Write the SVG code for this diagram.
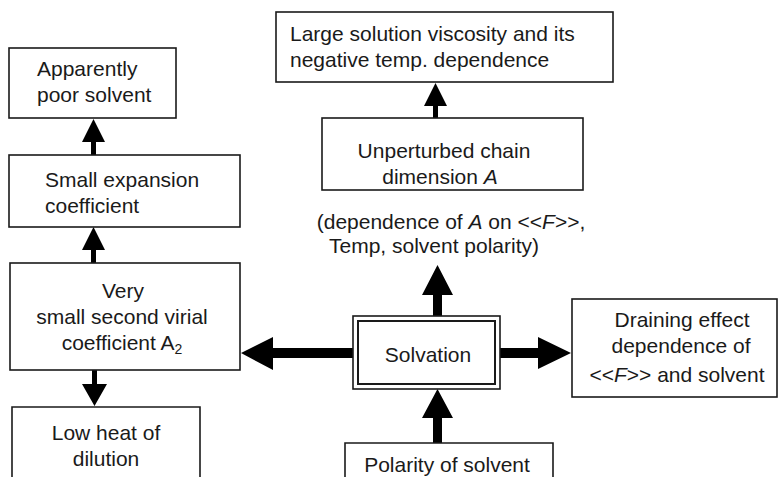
<svg xmlns="http://www.w3.org/2000/svg" width="779" height="477" viewBox="0 0 779 477">
  <style>
    .box { fill: #ffffff; stroke: #1a1a1a; stroke-width: 1.6; }
    .open { fill: none; stroke: #1a1a1a; stroke-width: 1.6; }
    .t { font-family: "Liberation Sans", Arial, sans-serif; font-size: 21px; fill: #1a1a1a; }
    .c { text-anchor: middle; }
    .arrow { fill: #000000; stroke: none; }
  </style>
  <rect width="779" height="477" fill="#ffffff"/>

  <!-- connectors -->
  <g id="connectors">
    <!-- Small expansion coefficient -> Apparently poor solvent -->
    <path class="arrow" d="M91,155 L91,142 L82,142 L93.5,119 L105,142 L96,142 L96,155 Z"/>
    <!-- Very small A2 -> Small expansion coefficient -->
    <path class="arrow" d="M91,263 L91,250 L82,250 L93.5,227 L105,250 L96,250 L96,263 Z"/>
    <!-- Very small A2 -> Low heat of dilution -->
    <path class="arrow" d="M92,370 L92,384 L82,384 L94.5,406 L107,384 L97,384 L97,370 Z"/>
    <!-- Unperturbed chain -> Large solution viscosity -->
    <path class="arrow" d="M433,118 L433,106 L424,106 L435.5,83 L447,106 L438,106 L438,118 Z"/>
    <!-- Solvation -> dependence of A (up) -->
    <path class="arrow" d="M433,316 L433,295 L422,295 L437.5,265 L453,295 L442,295 L442,316 Z"/>
    <!-- Solvation -> Very small A2 (left) -->
    <path class="arrow" d="M353,348 L273,348 L273,337 L241,353 L273,370 L273,358 L353,358 Z"/>
    <!-- Solvation -> Draining effect (right) -->
    <path class="arrow" d="M500,348 L538,348 L538,337 L571,353 L538,369 L538,358 L500,358 Z"/>
    <!-- Polarity of solvent -> Solvation (up) -->
    <path class="arrow" d="M433,443 L433,418 L422,418 L437.5,389 L453,418 L442,418 L442,443 Z"/>
  </g>

  <g id="apparently-poor-solvent">
    <rect class="box" x="9" y="48" width="167" height="70"/>
    <text class="t" x="37" y="76">Apparently</text>
    <text class="t" x="37" y="102">poor solvent</text>
  </g>

  <g id="small-expansion">
    <rect class="box" x="9" y="155" width="231" height="72"/>
    <text class="t" x="45" y="187">Small expansion</text>
    <text class="t" x="45" y="213">coefficient</text>
  </g>

  <g id="second-virial">
    <rect class="box" x="10" y="263" width="230" height="107"/>
    <text class="t c" x="123" y="298">Very</text>
    <text class="t c" x="122" y="324">small second virial</text>
    <text class="t c" x="122" y="350">coefficient A<tspan font-size="14" dy="4">2</tspan></text>
  </g>

  <g id="low-heat">
    <path class="open" d="M12,477 L12,407 L200,407 L200,477"/>
    <text class="t c" x="106" y="440">Low heat of</text>
    <text class="t c" x="106" y="466">dilution</text>
  </g>

  <g id="large-viscosity">
    <rect class="box" x="276" y="12" width="337" height="70"/>
    <text class="t" x="290" y="41">Large solution viscosity and its</text>
    <text class="t" x="290" y="67">negative temp. dependence</text>
  </g>

  <g id="unperturbed">
    <rect class="box" x="322" y="118" width="261" height="72"/>
    <text class="t c" x="444" y="158">Unperturbed chain</text>
    <text class="t c" x="440" y="184">dimension <tspan font-style="italic">A</tspan></text>
  </g>

  <g id="dependence-note">
    <text class="t c" x="451" y="229">(dependence of <tspan font-style="italic">A</tspan> on &lt;&lt;<tspan font-style="italic">F</tspan>&gt;&gt;,</text>
    <text class="t c" x="434" y="253">Temp, solvent polarity)</text>
  </g>

  <g id="solvation">
    <rect class="box" x="353" y="316" width="147" height="73"/>
    <rect fill="none" stroke="#1a1a1a" stroke-width="2" x="358" y="321" width="137" height="63"/>
    <text class="t c" x="428" y="362">Solvation</text>
  </g>

  <g id="draining-effect">
    <rect class="box" x="572" y="299" width="205" height="98"/>
    <text class="t c" x="682" y="327">Draining effect</text>
    <text class="t c" x="681" y="353">dependence of</text>
    <text class="t c" x="677" y="382">&lt;&lt;<tspan font-style="italic">F</tspan>&gt;&gt; and solvent</text>
  </g>

  <g id="polarity">
    <path class="open" d="M345,477 L345,443 L553,443 L553,477"/>
    <text class="t c" x="447" y="472">Polarity of solvent</text>
  </g>
</svg>
